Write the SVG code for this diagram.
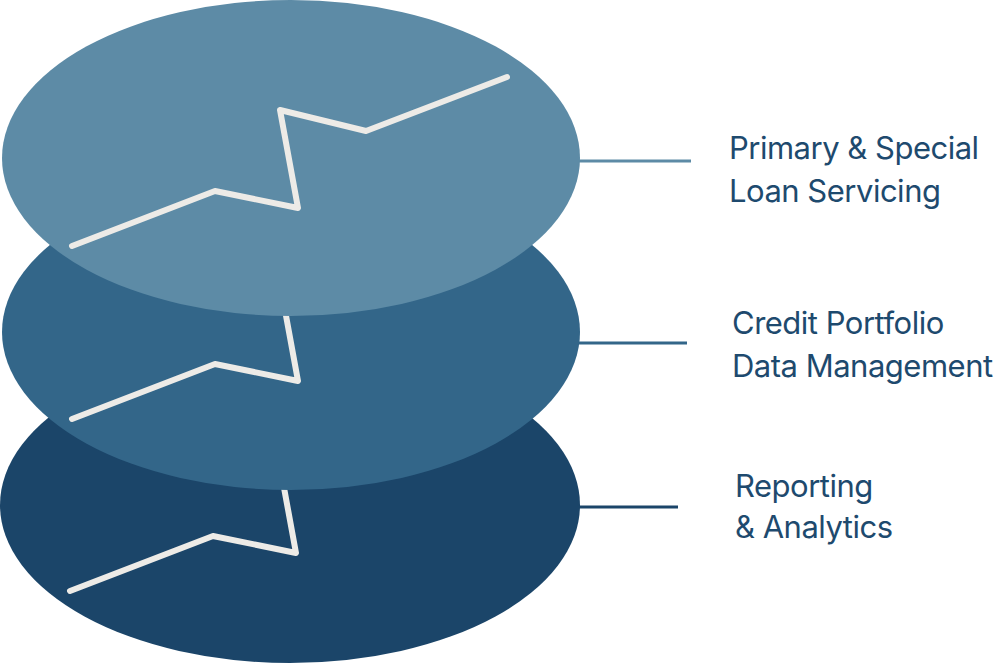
<svg xmlns="http://www.w3.org/2000/svg" width="1000" height="664" viewBox="0 0 1000 664">
<style>
.zz{fill:none;stroke:#EDEBE7;stroke-width:6;stroke-linecap:round;stroke-linejoin:round}
.lbl{font-family:Inter,"Liberation Sans",sans-serif;font-size:31px;letter-spacing:-0.5px;fill:#1E4A6E}
.con{stroke-width:3;fill:none}
</style>
<defs>
<polyline id="zig" points="72,246 215,191 298,208 280,110 366,131 507,77"/>
</defs>
<g id="connectors">
<line class="con" x1="575" y1="161" x2="691" y2="161" stroke="#5D8BA6"/>
<line class="con" x1="575" y1="343" x2="687" y2="343" stroke="#336689"/>
<line class="con" x1="575" y1="507" x2="678" y2="507" stroke="#1B4569"/>
</g>
<g id="layer-bottom">
<ellipse cx="290" cy="505" rx="290" ry="158" fill="#1B4569"/>
<use href="#zig" class="zz" transform="translate(-2,345)"/>
</g>
<g id="layer-middle">
<ellipse cx="291" cy="332" rx="289" ry="158" fill="#336689"/>
<use href="#zig" class="zz" transform="translate(0,173)"/>
</g>
<g id="layer-top">
<ellipse cx="291" cy="158" rx="289" ry="158" fill="#5D8BA6"/>
<use href="#zig" class="zz"/>
</g>
<g id="label-top">
<text class="lbl" x="729" y="159">Primary &amp; Special</text>
<text class="lbl" x="729" y="202">Loan Servicing</text>
</g>
<g id="label-middle">
<text class="lbl" x="732" y="334">Credit Portfolio</text>
<text class="lbl" x="732" y="377">Data Management</text>
</g>
<g id="label-bottom">
<text class="lbl" x="735" y="497">Reporting</text>
<text class="lbl" x="735" y="538">&amp; Analytics</text>
</g>
</svg>
